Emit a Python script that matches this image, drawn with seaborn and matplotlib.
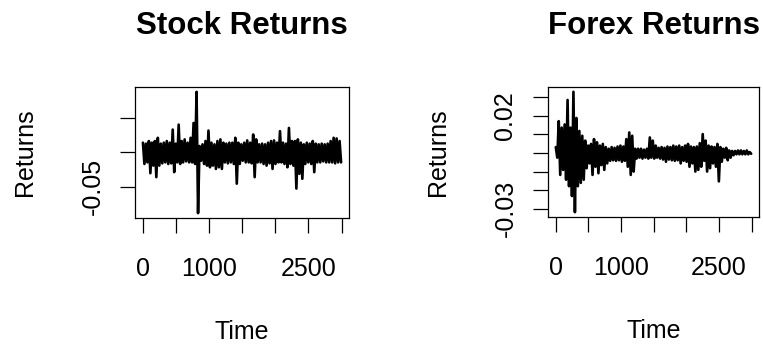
import numpy as np
import pandas as pd
import matplotlib
matplotlib.use("Agg")
import matplotlib.pyplot as plt
import seaborn as sns

# ---- data (envelope values every 45 time steps) ----
time_step = 45
stock_upper = [0.0138, 0.0124, 0.0162, 0.0138, 0.0162, 0.0209, 0.0124, 0.0138, 0.0162, 0.0138,
               0.0328, 0.0124, 0.0400, 0.0162, 0.0186, 0.0138, 0.0209, 0.0424, 0.0876, 0.0090,
               0.0114, 0.0162, 0.0314, 0.0138, 0.0114, 0.0162, 0.0186, 0.0138, 0.0124, 0.0138,
               0.0138, 0.0209, 0.0138, 0.0114, 0.0138, 0.0171, 0.0138, 0.0257, 0.0186, 0.0114,
               0.0124, 0.0114, 0.0138, 0.0162, 0.0171, 0.0138, 0.0305, 0.0138, 0.0124, 0.0352,
               0.0162, 0.0162, 0.0186, 0.0138, 0.0114, 0.0138, 0.0124, 0.0162, 0.0124, 0.0114,
               0.0124, 0.0114, 0.0124, 0.0162, 0.0209, 0.0200, 0.0162]
stock_lower = [-0.0171, -0.0148, -0.0305, -0.0195, -0.0362, -0.0195, -0.0162, -0.0148, -0.0171, -0.0162,
               -0.0290, -0.0148, -0.0171, -0.0148, -0.0133, -0.0148, -0.0148, -0.0171, -0.0885, -0.0124,
               -0.0171, -0.0195, -0.0219, -0.0195, -0.0243, -0.0219, -0.0243, -0.0148, -0.0162, -0.0148,
               -0.0171, -0.0457, -0.0171, -0.0124, -0.0148, -0.0148, -0.0162, -0.0362, -0.0148, -0.0148,
               -0.0171, -0.0195, -0.0162, -0.0243, -0.0171, -0.0148, -0.0148, -0.0171, -0.0219, -0.0171,
               -0.0195, -0.0528, -0.0314, -0.0386, -0.0171, -0.0148, -0.0171, -0.0290, -0.0148, -0.0148,
               -0.0133, -0.0148, -0.0148, -0.0148, -0.0162, -0.0148, -0.0148]

forex_upper = [0.0032, 0.0172, 0.0137, 0.0154, 0.0286, 0.0137, 0.0330, 0.0189, 0.0119, 0.0093,
               0.0067, 0.0040, 0.0049, 0.0075, 0.0058, 0.0040, 0.0049, 0.0032, 0.0023, 0.0032,
               0.0028, 0.0035, 0.0040, 0.0035, 0.0075, 0.0111, 0.0093, 0.0023, 0.0023, 0.0023,
               0.0018, 0.0023, 0.0084, 0.0067, 0.0040, 0.0028, 0.0032, 0.0028, 0.0035, 0.0032,
               0.0040, 0.0035, 0.0040, 0.0032, 0.0040, 0.0049, 0.0035, 0.0032, 0.0035, 0.0053,
               0.0102, 0.0067, 0.0040, 0.0035, 0.0032, 0.0049, 0.0032, 0.0023, 0.0028, 0.0014,
               0.0011, 0.0011, 0.0014, 0.0014, 0.0011, 0.0014, 0.0005]
forex_lower = [-0.0025, -0.0118, -0.0091, -0.0144, -0.0179, -0.0232, -0.0319, -0.0179, -0.0161, -0.0144,
               -0.0082, -0.0056, -0.0118, -0.0074, -0.0109, -0.0065, -0.0091, -0.0056, -0.0042, -0.0039,
               -0.0042, -0.0039, -0.0047, -0.0042, -0.0074, -0.0118, -0.0100, -0.0030, -0.0025, -0.0030,
               -0.0025, -0.0030, -0.0025, -0.0030, -0.0025, -0.0030, -0.0035, -0.0047, -0.0035, -0.0039,
               -0.0042, -0.0039, -0.0056, -0.0042, -0.0047, -0.0074, -0.0056, -0.0100, -0.0091, -0.0074,
               -0.0042, -0.0100, -0.0082, -0.0056, -0.0074, -0.0153, -0.0047, -0.0025, -0.0039, -0.0025,
               -0.0012, -0.0007, -0.0007, -0.0007, -0.0007, -0.0007, -0.0004]

titles = ["Stock Returns", "Forex Returns"]
x_label = "Time"
y_label = "Returns"
x_ticks = [0, 500, 1000, 1500, 2000, 2500, 3000]
x_ticklabels = ["0", "", "1000", "", "", "2500", ""]
stock_yticks = [-0.05, 0.0, 0.05]
stock_yticklabels = ["-0.05", "", ""]
forex_yticks = [-0.03, -0.02, -0.01, 0.0, 0.01, 0.02, 0.03]
forex_yticklabels = ["-0.03", "", "", "", "", "0.02", ""]


def build_series(upper, lower):
    t, v = [], []
    for i, (u, l) in enumerate(zip(upper, lower)):
        t.append(i * time_step)
        v.append(u)
        t.append(i * time_step + time_step / 2)
        v.append(l)
    return pd.DataFrame({"Time": t, "Returns": v})


stock_df = build_series(stock_upper, stock_lower)
forex_df = build_series(forex_upper, forex_lower)

sns.set_style("ticks")
plt.rcParams["font.family"] = ["Liberation Sans", "DejaVu Sans"]
plt.rcParams["text.color"] = "black"
plt.rcParams["axes.labelcolor"] = "black"
plt.rcParams["xtick.color"] = "black"
plt.rcParams["ytick.color"] = "black"

fig = plt.figure(figsize=(7.63, 3.47), dpi=100)
ax1 = fig.add_axes([135 / 763, 1 - 218 / 347, 214 / 763, 131 / 347])
ax2 = fig.add_axes([548 / 763, 1 - 217 / 347, 211 / 763, 130 / 347])


def r_range(lo, hi):
    d = (hi - lo) * 0.04
    return lo - d, hi + d


for ax, df, title, yt, ytl in [
    (ax1, stock_df, titles[0], stock_yticks, stock_yticklabels),
    (ax2, forex_df, titles[1], forex_yticks, forex_yticklabels),
]:
    sns.lineplot(data=df, x="Time", y="Returns", ax=ax, color="black",
                 linewidth=1.9, estimator=None, sort=False)
    ax.set_xlim(*r_range(df["Time"].min(), df["Time"].max()))
    ax.set_ylim(*r_range(df["Returns"].min(), df["Returns"].max()))
    ax.set_xticks(x_ticks)
    ax.set_xticklabels(x_ticklabels)
    ax.set_yticks(yt)
    ax.set_yticklabels(ytl)
    ax.tick_params(axis="both", direction="out", length=11, width=0.9,
                   color="black", labelsize=18, labelcolor="black",
                   bottom=True, left=True, top=False, right=False)
    ax.tick_params(axis="x", pad=17)
    ax.tick_params(axis="y", pad=11)
    for lab in ax.get_yticklabels():
        lab.set_rotation(90)
        lab.set_va("center")
    for s in ax.spines.values():
        s.set_visible(True)
        s.set_color("black")
        s.set_linewidth(0.9)
    ax.set_xlabel(x_label, fontsize=18, labelpad=28)
    ax.set_ylabel(y_label, fontsize=18, labelpad=31)
    ax.set_title(title, fontsize=22.5, fontweight="bold", pad=38.5)
    ax.grid(False)

fig.savefig("out.png", dpi=100, facecolor="white")
